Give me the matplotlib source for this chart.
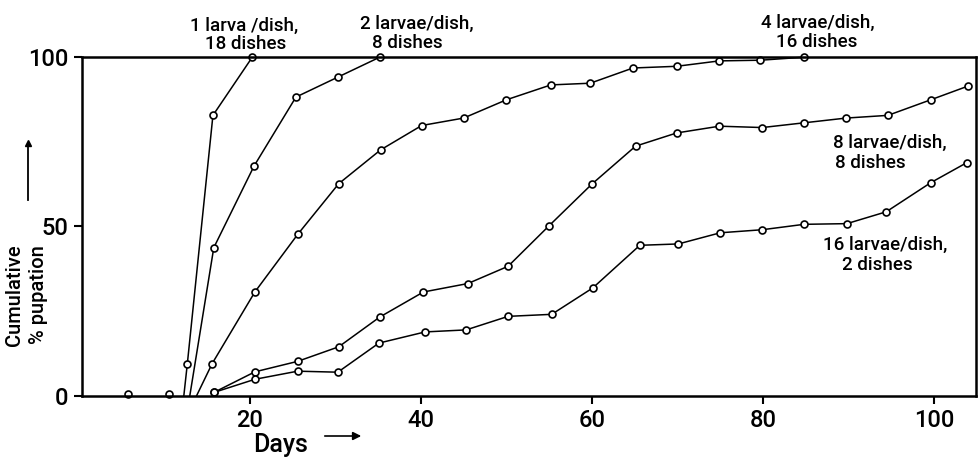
import matplotlib.pyplot as plt

plt.rcParams['font.family'] = ['Roboto', 'DejaVu Sans']
plt.rcParams['font.weight'] = 'medium'

# days and cumulative % pupation
# (first point of the first three curves is the line start on the baseline, no marker)
d1 = [12.3, 12.7, 15.7, 20.3]
p1 = [0, 9.2, 82.8, 100]

d2 = [13.0, 15.8, 20.5, 25.4, 30.3, 35.2]
p2 = [0, 43.7, 67.8, 88.2, 94.1, 100]

d4 = [13.8, 15.6, 20.6, 25.6, 30.4, 35.3, 40.1, 45.0, 50.0, 55.2, 59.8, 64.8,
      69.9, 74.9, 79.7, 84.8]
p4 = [0, 9.4, 30.6, 47.6, 62.6, 72.6, 79.8, 82.0, 87.4, 91.8, 92.3, 96.8,
      97.3, 98.9, 99.1, 100]

d8 = [15.8, 20.6, 25.6, 30.4, 35.2, 40.3, 45.5, 50.2, 55.0, 60.0, 65.1, 69.9,
      74.9, 79.9, 84.8, 89.7, 94.6, 99.6, 103.9]
p8 = [0.9, 7.0, 10.1, 14.4, 23.2, 30.6, 33.1, 38.2, 50.2, 62.5, 73.7, 77.6,
      79.6, 79.2, 80.6, 82.0, 82.8, 87.4, 91.4]

d16 = [15.8, 20.6, 25.6, 30.3, 35.1, 40.5, 45.3, 50.2, 55.3, 60.1, 65.6, 70.1,
       75.0, 79.9, 84.8, 89.8, 94.4, 99.6, 103.8]
p16 = [0.9, 4.8, 7.2, 6.9, 15.5, 18.8, 19.4, 23.4, 24.0, 31.8, 44.4, 44.8,
       48.1, 49.0, 50.6, 50.8, 54.3, 62.9, 68.8]

# early days with no pupation
d0 = [5.8, 10.6]
p0 = [0.5, 0.5]

fig = plt.figure(figsize=(9.79, 4.61), dpi=100)
ax = fig.add_axes([0.0838, 0.142, 0.9132, 0.734])

style = dict(color='black', linewidth=1.1, marker='o', markersize=5,
             markerfacecolor='white', markeredgecolor='black',
             markeredgewidth=1.2, clip_on=False)

ax.plot(d1, p1, markevery=slice(1, None), **style)
ax.plot(d2, p2, markevery=slice(1, None), **style)
ax.plot(d4, p4, markevery=slice(1, None), **style)
ax.plot(d8, p8, **style)
ax.plot(d16, p16, **style)
ax.plot(d0, p0, linestyle='none', **{k: v for k, v in style.items() if k != 'linewidth'})

ax.set_xlim(0.4, 104.9)
ax.set_ylim(0, 100)
ax.set_xticks([20, 40, 60, 80, 100])
ax.set_yticks([0, 50, 100])
ax.tick_params(direction='out', length=6, width=1.5, labelsize=17, pad=4)
for s in ax.spines.values():
    s.set_linewidth(1.8)

# y label with arrow
fig.text(15 / 979, 1 - 295 / 461, 'Cumulative', rotation=90, ha='center',
         va='center', fontsize=14.5)
fig.text(38 / 979, 1 - 295 / 461, '% pupation', rotation=90, ha='center',
         va='center', fontsize=14.5)
fig.add_artist(plt.Line2D([28 / 979, 28 / 979], [1 - 200 / 461, 1 - 143 / 461],
                          color='black', linewidth=1.3))
fig.add_artist(plt.Line2D([28 / 979], [1 - 143 / 461], marker='^', markersize=5,
                          color='black'))

# x label with arrow
fig.text(281 / 979, 1 - 445 / 461, 'Days', ha='center', va='center', fontsize=18)
ax.annotate('', xy=(364 / 979, 1 - 436 / 461), xytext=(322 / 979, 1 - 436 / 461),
            xycoords='figure fraction',
            arrowprops=dict(arrowstyle='-|>', color='black', lw=1.2,
                            mutation_scale=12))

# curve labels
labels = [
    ('1 larva /dish,', 244, 26), ('18 dishes', 246, 44),
    ('2 larvae/dish,', 417, 24), ('8 dishes', 407, 43),
    ('4 larvae/dish,', 818, 23), ('16 dishes', 817, 42),
    ('8 larvae/dish,', 890, 143), ('8 dishes', 870, 163),
    ('16 larvae/dish,', 885, 245), ('2 dishes', 877, 265),
]
for txt, px, py in labels:
    fig.text(px / 979, 1 - py / 461, txt, ha='center', va='center', fontsize=13.5)

fig.savefig('out.png', dpi=100)
